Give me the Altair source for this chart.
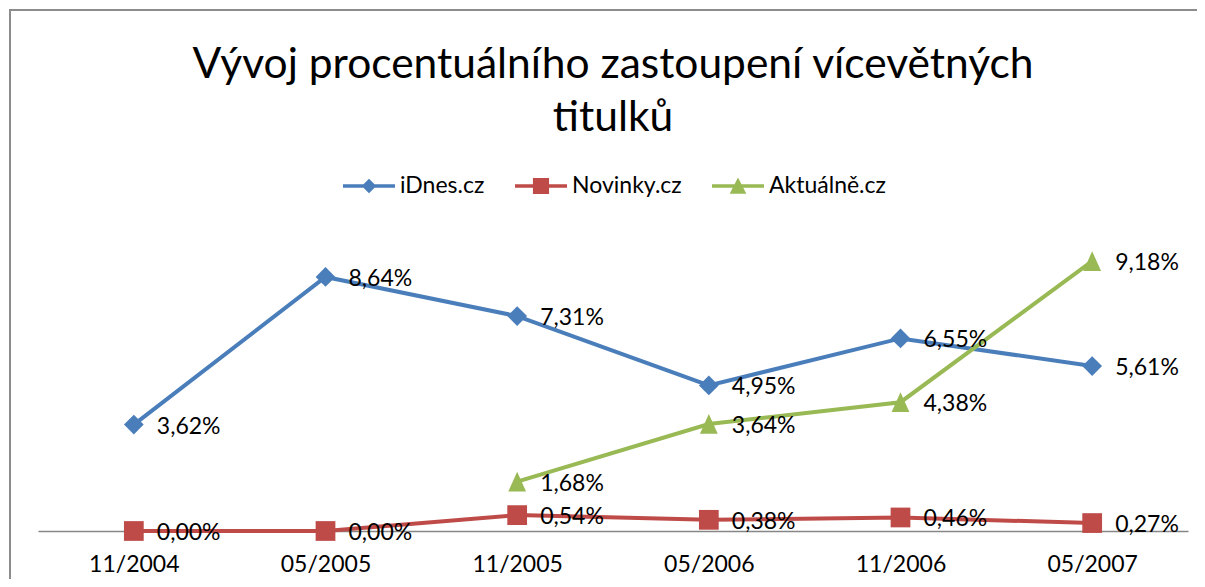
import altair as alt
import pandas as pd

# ---- data ----
periods = ["11/2004", "05/2005", "11/2005", "05/2006", "11/2006", "05/2007"]
series_names = ["iDnes.cz", "Novinky.cz", "Aktuálně.cz"]
idnes = [3.62, 8.64, 7.31, 4.95, 6.55, 5.61]
novinky = [0.00, 0.00, 0.54, 0.38, 0.46, 0.27]
aktualne = [None, None, 1.68, 3.64, 4.38, 9.18]
title_lines = ["Vývoj procentuálního zastoupení vícevětných", "titulků"]

# ---- styling ----
FONT = "Lato"
series_colors = ["#4A7EBB", "#BE4B48", "#98B954"]
tri_path = "M0,-1L0.9,1L-0.9,1Z"
legend_paths = [
    "M-1,-0.07L1,-0.07L1,0.07L-1,0.07Z M0,-0.28L0.28,0L0,0.28L-0.28,0Z",
    "M-1,-0.07L1,-0.07L1,0.07L-1,0.07Z M-0.31,-0.31L0.31,-0.31L0.31,0.31L-0.31,0.31Z",
    "M-1,-0.07L1,-0.07L1,0.07L-1,0.07Z M0,-0.33L0.32,0.3L-0.32,0.3Z",
]

rows = []
for name, vals in zip(series_names, [idnes, novinky, aktualne]):
    for p, v in zip(periods, vals):
        if v is not None:
            rows.append({"period": p, "series": name, "value": v})
df = pd.DataFrame(rows)

x = alt.X(
    "period:N",
    sort=periods,
    scale=alt.Scale(type="point", padding=0.5, domain=periods),
    axis=alt.Axis(
        title=None, domainColor="#868686", domainWidth=1.5, ticks=False,
        labelFontSize=23, labelFont=FONT, labelColor="#000000",
        labelPadding=22, labelAngle=0, grid=False,
    ),
)
y = alt.Y("value:Q", scale=alt.Scale(domain=[0, 10], nice=False), axis=None)
color = alt.Color("series:N", scale=alt.Scale(domain=series_names, range=series_colors), legend=None)

base = alt.Chart(df)

border = alt.Chart(pd.DataFrame({"a": [0]})).mark_rect(
    fill="white", fillOpacity=0, stroke="#8c8c8c", strokeWidth=2
).encode(x=alt.value(-28), x2=alt.value(1250), y=alt.value(-227), y2=alt.value(600))

lines = base.mark_line(strokeWidth=4).encode(x=x, y=y, color=color)

points = base.mark_point(filled=True, opacity=1, size=390).encode(
    x=x, y=y, color=color,
    shape=alt.Shape("series:N", scale=alt.Scale(domain=series_names, range=["diamond", "square", tri_path]), legend=None),
)

labels = base.transform_calculate(
    label="replace(format(datum.value, '.2f'), '.', ',') + '%'"
).mark_text(
    align="left", baseline="middle", dx=23, dy=2, fontSize=23, font=FONT, color="#000000"
).encode(x=x, y=y, text="label:N")

leg = alt.Legend(
    title=None, orient="none", legendX=305, legendY=-77, direction="horizontal",
    symbolSize=2704, symbolStrokeWidth=0, symbolOpacity=1, labelFont=FONT, labelFontSize=23,
    labelColor="#000000", labelOffset=5, columnPadding=30, padding=0,
)
legend_layer = alt.Chart(df).transform_filter("false").mark_point(filled=True, opacity=1).encode(
    color=alt.Color("series:N", scale=alt.Scale(domain=series_names, range=series_colors), legend=leg),
    shape=alt.Shape("series:N", scale=alt.Scale(domain=series_names, range=legend_paths), legend=leg),
)

chart = alt.layer(
    alt.layer(border, lines, points, labels), legend_layer
).resolve_scale(color="independent", shape="independent").properties(
    width=1150, height=294,
    title=alt.TitleParams(
        text=title_lines, font=FONT, fontSize=42.5, fontWeight="normal", color="#000000",
        anchor="middle", lineHeight=53, offset=0, dy=130,
    ),
    padding={"left": 30, "top": 229, "right": 9, "bottom": 48},
    autosize=alt.AutoSizeParams(type="none"),
).configure_view(stroke=None)

chart.save("out.html", embed_options={"renderer": "svg", "actions": False})
